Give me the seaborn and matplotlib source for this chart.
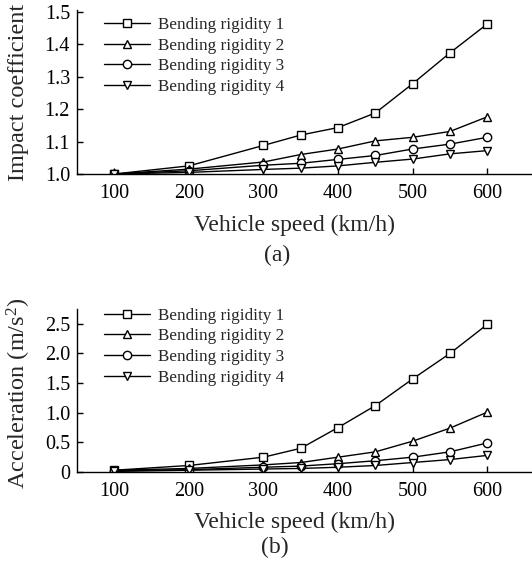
import numpy as np
import pandas as pd
import matplotlib
matplotlib.use("Agg")
import matplotlib.pyplot as plt
import seaborn as sns

speeds = [100, 200, 300, 350, 400, 450, 500, 550, 600]
series_names = ["Bending rigidity 1", "Bending rigidity 2", "Bending rigidity 3", "Bending rigidity 4"]
impact_1 = [1.0, 1.025, 1.088, 1.12, 1.143, 1.188, 1.278, 1.373, 1.462]
impact_2 = [1.0, 1.015, 1.037, 1.06, 1.077, 1.102, 1.113, 1.131, 1.176]
impact_3 = [1.0, 1.01, 1.027, 1.033, 1.045, 1.057, 1.077, 1.092, 1.113]
impact_4 = [1.0, 1.005, 1.014, 1.018, 1.025, 1.036, 1.046, 1.062, 1.072]
accel_1 = [0.03, 0.11, 0.25, 0.40, 0.75, 1.12, 1.57, 2.0, 2.49]
accel_2 = [0.03, 0.06, 0.12, 0.16, 0.25, 0.34, 0.52, 0.74, 1.01]
accel_3 = [0.02, 0.04, 0.08, 0.10, 0.14, 0.19, 0.25, 0.34, 0.49]
accel_4 = [0.01, 0.03, 0.05, 0.06, 0.08, 0.11, 0.16, 0.21, 0.28]
x_ticks = [100, 200, 300, 400, 500, 600]
impact_ticks = [1.0, 1.1, 1.2, 1.3, 1.4, 1.5]
impact_ticklabels = ["1.0", "1.1", "1.2", "1.3", "1.4", "1.5"]
accel_ticks = [0, 0.5, 1.0, 1.5, 2.0, 2.5]
accel_ticklabels = ["0", "0.5", "1.0", "1.5", "2.0", "2.5"]
markers = ["s", "^", "o", "v"]

sns.set_theme(style="ticks")
plt.rcParams["font.family"] = ["Liberation Serif", "DejaVu Serif"]
plt.rcParams["mathtext.fontset"] = "custom"
plt.rcParams["mathtext.rm"] = "Liberation Serif"
plt.rcParams["mathtext.it"] = "Liberation Serif:italic"

W, H = 532, 570
fig = plt.figure(figsize=(W / 100, H / 100), dpi=100)

def make_ax(top_px, bottom_px):
    return fig.add_axes([77 / W, 1 - bottom_px / H, (W - 77) / W, (bottom_px - top_px) / H])

def draw(ax, ys, ylim, yticks, yticklabels, leg_y):
    for name, vals, m in zip(series_names, ys, markers):
        df = pd.DataFrame({"speed": speeds, "value": vals})
        sns.lineplot(data=df, x="speed", y="value", ax=ax, color="black", lw=1.0,
                     marker=m, markersize=6, mfc="white", mec="black", mew=1.0,
                     label=name)
    ax.set_xlim(50, 660)
    ax.set_ylim(*ylim)
    ax.set_xticks(x_ticks)
    ax.set_yticks(yticks)
    ax.set_yticklabels(yticklabels)
    ax.set_xlabel("")
    ax.set_ylabel("")
    for s in ["top", "right"]:
        ax.spines[s].set_visible(False)
    for s in ["left", "bottom"]:
        ax.spines[s].set_linewidth(1.0)
        ax.spines[s].set_color("black")
    ax.tick_params(direction="in", length=4, width=1.0, labelsize=14.5, colors="black")
    ax.tick_params(axis="x", pad=7)
    ax.tick_params(axis="y", pad=5)
    ax.legend(loc="upper left", bbox_to_anchor=(0.045, leg_y), frameon=False,
              fontsize=12.3, handlelength=2.65, labelspacing=0.28, handletextpad=0.5,
              borderaxespad=0)

ax1 = make_ax(10, 174)
draw(ax1, [impact_1, impact_2, impact_3, impact_4], (1.0, 1.505), impact_ticks, impact_ticklabels, 1.0)
ax2 = make_ax(309, 472)
draw(ax2, [accel_1, accel_2, accel_3, accel_4], (0, 2.75), accel_ticks, accel_ticklabels, 1.05)

fig.text(294 / W, 1 - 225 / H, "Vehicle speed (km/h)", ha="center", va="center", fontsize=17)
fig.text(277 / W, 1 - 255 / H, "(a)", ha="center", va="center", fontsize=17)
fig.text(294 / W, 1 - 522 / H, "Vehicle speed (km/h)", ha="center", va="center", fontsize=17)
fig.text(275 / W, 1 - 547 / H, "(b)", ha="center", va="center", fontsize=17)
fig.text(19 / W, 1 - 92 / H, "Impact coefficient", ha="center", va="center", rotation=90, fontsize=17.5)
fig.text(19 / W, 1 - 393 / H, "Acceleration (m/s$^{2}$)", ha="center", va="center", rotation=90, fontsize=17.5)

fig.savefig("out.png", dpi=100)
